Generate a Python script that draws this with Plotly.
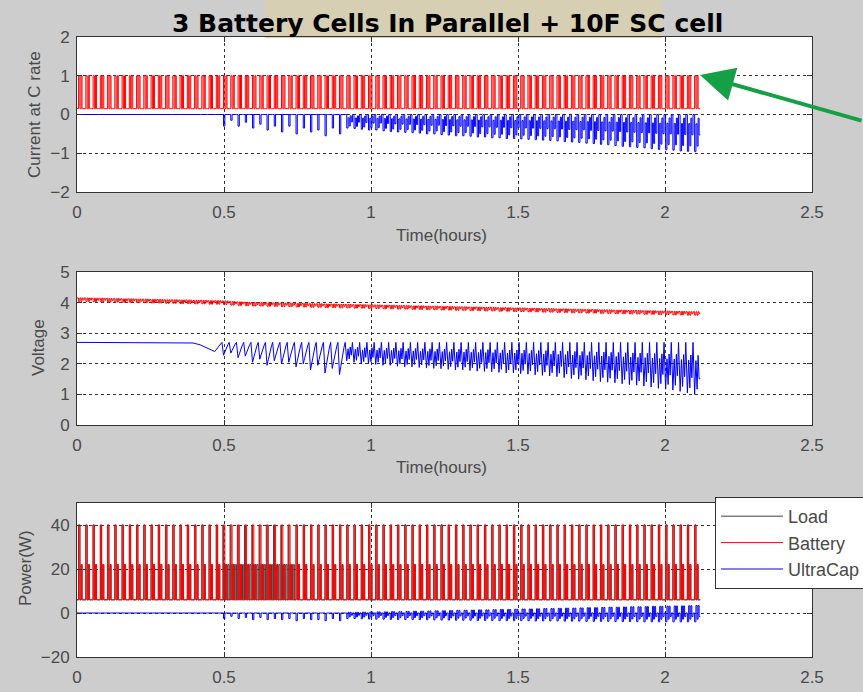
import plotly.graph_objects as go

# ---------------- data ----------------
T_END = 2.12          # hours, end of simulation
N_CYCLES = 86         # load cycles in the run
UC_START = 20         # first cycle in which the ultracap takes part
UC_DENSE = 37         # first cycle with the dense ultracap pattern
UC_V_FULL = 2.70      # ultracap voltage at rest (V)

x_ticks = [0, 0.5, 1, 1.5, 2, 2.5]
x_tick_labels = ["0", "0.5", "1", "1.5", "2", "2.5"]
y1_ticks = [-2, -1, 0, 1, 2]
y2_ticks = [0, 1, 2, 3, 4, 5]
y3_ticks = [-20, 0, 20, 40]

# one load cycle: segment start (fraction of the cycle) and levels
seg_frac = [0.0, 0.22, 0.40, 0.56, 0.70, 0.84]
batt_i_seg = [0.15, 1.0, 0.15, 1.0, 0.15, 0.15]        # C-rate
batt_p_seg = [6, 40, 6, 22, 6, 6]                      # W
batt_v_sag_seg = [0.0, 0.11, 0.0, 0.11, 0.0, 0.06]     # V
# ultracap, dense part: share of the cycle dip / drop
uc_i_seg = [0.0, 1.0, 0.25, 0.85, 0.1, 0.55]
uc_v_seg = [0.0, 1.0, 0.35, 0.9, 0.25, 0.7]
uc_p_dip_seg = [0.0, 1.0, 0.0, 0.7, 0.0, 0.4]
uc_p_chg_seg = [0.0, 0.0, 1.0, 0.0, 1.0, 0.0]
# ultracap, sparse part (0.5 h .. 0.9 h)
uc_sp_i_seg = [0.0, 1.0, 0.0, 0.0, 0.0, 0.0]
uc_sp_v_seg = [0.0, 1.0, 0.75, 0.5, 0.3, 0.15]
uc_sp_p_seg = [0.0, 1.0, 0.0, 0.0, 0.0, 0.0]

load_dense_frac = [0.0, 0.12, 0.24, 0.36, 0.48, 0.60, 0.72, 0.84]
load_dense_p = [6, 40, 6, 22, 6, 22, 6, 22]
load_dense_cycles = [20, 21, 22, 23, 24, 25, 26, 27, 28, 29]

# battery terminal voltage at rest, per cycle (V)
batt_v_top = [4.15, 4.15, 4.14, 4.14, 4.13, 4.13, 4.12, 4.12, 4.11, 4.11,
              4.10, 4.10, 4.09, 4.09, 4.08, 4.08, 4.07, 4.07, 4.06, 4.06,
              4.05, 4.03, 4.02, 4.01, 4.00, 4.00, 3.99, 3.99, 3.98, 3.98,
              3.97, 3.97, 3.96, 3.96, 3.95, 3.95, 3.94, 3.94, 3.93, 3.93,
              3.92, 3.92, 3.91, 3.91, 3.90, 3.90, 3.89, 3.89, 3.88, 3.88,
              3.87, 3.87, 3.86, 3.86, 3.85, 3.85, 3.84, 3.84, 3.83, 3.83,
              3.82, 3.82, 3.81, 3.81, 3.80, 3.80, 3.79, 3.79, 3.78, 3.78,
              3.77, 3.77, 3.76, 3.76, 3.75, 3.75, 3.74, 3.74, 3.73, 3.73,
              3.72, 3.72, 3.71, 3.71, 3.70, 3.70]

# ultracap voltage before it starts pulsing, per cycle (V)
uc_v_rest = [2.70, 2.70, 2.70, 2.70, 2.70, 2.70, 2.70, 2.70, 2.70, 2.70,
             2.70, 2.70, 2.70, 2.70, 2.70, 2.70, 2.68, 2.62, 2.52, 2.40]

# per active cycle (cycles 20..85)
uc_v_low = [2.28,
            2.35, 2.20, 2.25, 2.05, 2.15, 1.95, 2.10, 2.00, 2.05, 1.90,
            2.00, 1.80, 1.95, 1.70, 1.85, 1.65,
            2.10, 2.05, 2.00, 2.00, 1.98, 1.95, 1.95, 1.92, 1.90,
            1.90, 1.88, 1.86, 1.85, 1.84, 1.82, 1.80, 1.80, 1.78, 1.76,
            1.75, 1.74, 1.72, 1.70, 1.70,
            1.68, 1.66, 1.64, 1.62, 1.60, 1.58, 1.55, 1.52, 1.50, 1.48,
            1.45, 1.42, 1.40, 1.38, 1.35,
            1.32, 1.30, 1.27, 1.24, 1.20, 1.17, 1.14, 1.10, 1.05, 1.00]

uc_i_dip = [-0.30, -0.15, -0.30, -0.20, -0.35, -0.25, -0.40, -0.30, -0.45,
            -0.30, -0.50, -0.35, -0.45, -0.40, -0.55, -0.35, -0.50,
            -0.35, -0.36, -0.38, -0.40, -0.40, -0.42, -0.44, -0.45, -0.46,
            -0.47, -0.48, -0.50, -0.50, -0.52, -0.53, -0.55, -0.55, -0.56,
            -0.58, -0.58, -0.60, -0.60, -0.62, -0.62,
            -0.63, -0.64, -0.65, -0.66, -0.67, -0.68, -0.70, -0.71, -0.72,
            -0.74, -0.75, -0.77, -0.78, -0.80, -0.82,
            -0.83, -0.85, -0.86, -0.88, -0.90, -0.91, -0.92, -0.94, -0.95, -0.96]

uc_p_dip = [-2.5, -1.5, -2.5, -2.0, -3.0, -2.0, -3.0, -2.5, -3.0, -2.5,
            -3.5, -2.5, -3.0, -3.0, -3.5, -2.5, -3.5,
            -2.5, -2.5, -2.6, -2.7, -2.8, -2.8, -2.9, -3.0, -3.0,
            -3.0, -3.0, -3.1, -3.1, -3.2, -3.2, -3.3, -3.3, -3.3, -3.4,
            -3.4, -3.4, -3.5, -3.5, -3.5,
            -3.5, -3.5, -3.6, -3.6, -3.6, -3.6, -3.7, -3.7, -3.7, -3.8,
            -3.8, -3.8, -3.8, -3.9, -3.9,
            -3.9, -3.9, -4.0, -4.0, -4.0, -4.0, -4.0, -4.0, -4.0, -4.0]

uc_p_chg = [0, 0, 0, 0, 0, 0, 0, 0, 0, 0, 0, 0, 0, 0, 0, 0, 0,
            0.3, 0.3, 0.4, 0.4, 0.5, 0.5, 0.6, 0.6, 0.7,
            0.8, 0.8, 0.9, 1.0, 1.0, 1.1, 1.2, 1.2, 1.3, 1.4,
            1.4, 1.5, 1.6, 1.6, 1.7,
            1.8, 1.8, 1.9, 2.0, 2.0, 2.1, 2.2, 2.2, 2.3, 2.4,
            2.4, 2.5, 2.6, 2.6, 2.7,
            2.8, 2.8, 2.9, 3.0, 3.0, 3.1, 3.2, 3.2, 3.3, 3.4]

# ---------------- build the waveforms ----------------
T = T_END / N_CYCLES

bi_t, bi_y = [], []
bv_t, bv_y = [], []
bp_t, bp_y = [], []
ui_t, ui_y = [], []
uv_t, uv_y = [], []
up_t, up_y = [], []
lp_t, lp_y = [], []

for i in range(N_CYCLES):
    for f, lv, sag, pw in zip(seg_frac, batt_i_seg, batt_v_sag_seg, batt_p_seg):
        t = (i + f) * T
        bi_t.append(t); bi_y.append(lv)
        bv_t.append(t); bv_y.append(batt_v_top[i] - sag)
        bp_t.append(t); bp_y.append(pw)
    if i in load_dense_cycles:
        for f, pw in zip(load_dense_frac, load_dense_p):
            lp_t.append((i + f) * T); lp_y.append(pw)
    else:
        for f, pw in zip(seg_frac, batt_p_seg):
            lp_t.append((i + f) * T); lp_y.append(pw)
    if i < UC_START:
        ui_t.append(i * T); ui_y.append(0.0)
        up_t.append(i * T); up_y.append(0.0)
        uv_t.append(i * T); uv_y.append(uc_v_rest[i])
    else:
        k = i - UC_START
        if i < UC_DENSE:
            tmpl = zip(seg_frac, uc_sp_i_seg, uc_sp_v_seg, uc_sp_p_seg, uc_p_chg_seg)
        else:
            tmpl = zip(seg_frac, uc_i_seg, uc_v_seg, uc_p_dip_seg, uc_p_chg_seg)
        for f, a, b, d, c in tmpl:
            t = (i + f) * T
            ui_t.append(t); ui_y.append(a * uc_i_dip[k])
            uv_t.append(t); uv_y.append(UC_V_FULL - b * (UC_V_FULL - uc_v_low[k]))
            up_t.append(t); up_y.append(d * uc_p_dip[k] + c * uc_p_chg[k])

for tt, yy in ((bi_t, bi_y), (bv_t, bv_y), (bp_t, bp_y), (ui_t, ui_y),
               (uv_t, uv_y), (up_t, up_y), (lp_t, lp_y)):
    tt.append(T_END); yy.append(yy[-1])

# ---------------- figure ----------------
W, H = 863, 692
ML, MR, MT, MB = 77, 51, 37, 35
PW, PH = W - ML - MR, H - MT - MB


def px(x):
    return (x - ML) / PW


def py(y):
    return 1 - (y - MT) / PH


RED = "#ff0000"
BLUE = "#0000ff"
GRAY = "#404040"

fig = go.Figure()
fig.add_trace(go.Scatter(x=bi_t, y=bi_y, mode="lines", line=dict(color=RED, width=1, shape="hv"),
                         xaxis="x", yaxis="y", showlegend=False, hoverinfo="skip"))
fig.add_trace(go.Scatter(x=ui_t, y=ui_y, mode="lines", line=dict(color=BLUE, width=1, shape="hv"),
                         xaxis="x", yaxis="y", showlegend=False, hoverinfo="skip"))
fig.add_trace(go.Scatter(x=bv_t, y=bv_y, mode="lines", line=dict(color=RED, width=1, shape="hv"),
                         xaxis="x2", yaxis="y2", showlegend=False, hoverinfo="skip"))
fig.add_trace(go.Scatter(x=uv_t, y=uv_y, mode="lines", line=dict(color=BLUE, width=1),
                         xaxis="x2", yaxis="y2", showlegend=False, hoverinfo="skip"))
fig.add_trace(go.Scatter(x=lp_t, y=lp_y, mode="lines", name="Load",
                         line=dict(color=GRAY, width=1, shape="hv"), xaxis="x3", yaxis="y3"))
fig.add_trace(go.Scatter(x=bp_t, y=bp_y, mode="lines", name="Battery",
                         line=dict(color=RED, width=1, shape="hv"), xaxis="x3", yaxis="y3"))
fig.add_trace(go.Scatter(x=up_t, y=up_y, mode="lines", name="UltraCap",
                         line=dict(color=BLUE, width=1, shape="hv"), xaxis="x3", yaxis="y3"))

TICKFONT = dict(family="Liberation Sans, Arial, sans-serif", size=17, color="#4a4a4a")
axis_common = dict(showline=True, linecolor="#333333", linewidth=1, mirror="ticks",
                   ticks="inside", ticklen=5, tickcolor="#333333",
                   showgrid=True, gridcolor="#333333", gridwidth=1, griddash="3px,3px",
                   zeroline=False, tickfont=TICKFONT, fixedrange=True)

dom = [(py(192), py(37)), (py(425), py(272)), (py(657), py(503))]
for n, (d, yr, yt) in enumerate(zip(dom, [[-2, 2], [0, 5], [-20, 50]],
                                    [y1_ticks, y2_ticks, y3_ticks]), start=1):
    sfx = "" if n == 1 else str(n)
    fig.layout["xaxis" + sfx] = dict(axis_common, range=[0, 2.5], tickvals=x_ticks,
                                     ticktext=x_tick_labels, domain=[0, 1],
                                     anchor="y" + sfx, ticklabelstandoff=5)
    fig.layout["yaxis" + sfx] = dict(axis_common, range=yr, tickvals=yt, domain=list(d),
                                     anchor="x" + sfx, ticklabelstandoff=3)

LABELFONT = dict(family="Liberation Sans, Arial, sans-serif", size=17, color="#4a4a4a")
ann = [
    dict(text="Current at C rate", x=px(35), y=py(115), textangle=-90),
    dict(text="Voltage", x=px(38), y=py(348), textangle=-90),
    dict(text="Power(W)", x=px(25), y=py(568), textangle=-90),
    dict(text="Time(hours)", x=px(441), y=py(235)),
    dict(text="Time(hours)", x=px(441), y=py(467)),
    dict(text="Time(hours)", x=px(441), y=py(700)),
]
annotations = []
for a in ann:
    annotations.append(dict(a, xref="paper", yref="paper", showarrow=False,
                            xanchor="center", yanchor="middle", font=LABELFONT))

annotations.append(dict(text="<b>3 Battery Cells In Parallel + 10F SC cell</b>",
                        x=px(447), y=py(23), xref="paper", yref="paper", showarrow=False,
                        xanchor="center", yanchor="middle",
                        font=dict(family="DejaVu Sans, Verdana, sans-serif", size=25,
                                  color="#000000")))
annotations.append(dict(text="", x=px(700), y=py(75), xref="paper", yref="paper",
                        ax=175, ay=46, axref="pixel", ayref="pixel", showarrow=True,
                        arrowhead=2, arrowsize=1.7, arrowwidth=4, arrowcolor="#16a045"))

fig.update_layout(
    width=W, height=H,
    margin=dict(l=ML, r=MR, t=MT, b=MB, autoexpand=False),
    paper_bgcolor="#cdcdcd", plot_bgcolor="#ffffff",
    annotations=annotations,
    shapes=[dict(type="rect", xref="paper", yref="paper", x0=px(265), x1=px(662),
                 y0=py(38), y1=py(0), fillcolor="#d7cfb3", line=dict(width=0), layer="below")],
    legend=dict(x=px(715), y=py(497), xanchor="left", yanchor="top",
                bgcolor="#ffffff", bordercolor="#333333", borderwidth=1,
                font=dict(family="Liberation Sans, Arial, sans-serif", size=18, color="#4a4a4a"),
                itemwidth=62, tracegroupgap=0),
    showlegend=True,
)

fig.write_html("out.html", config={"displayModeBar": False})
